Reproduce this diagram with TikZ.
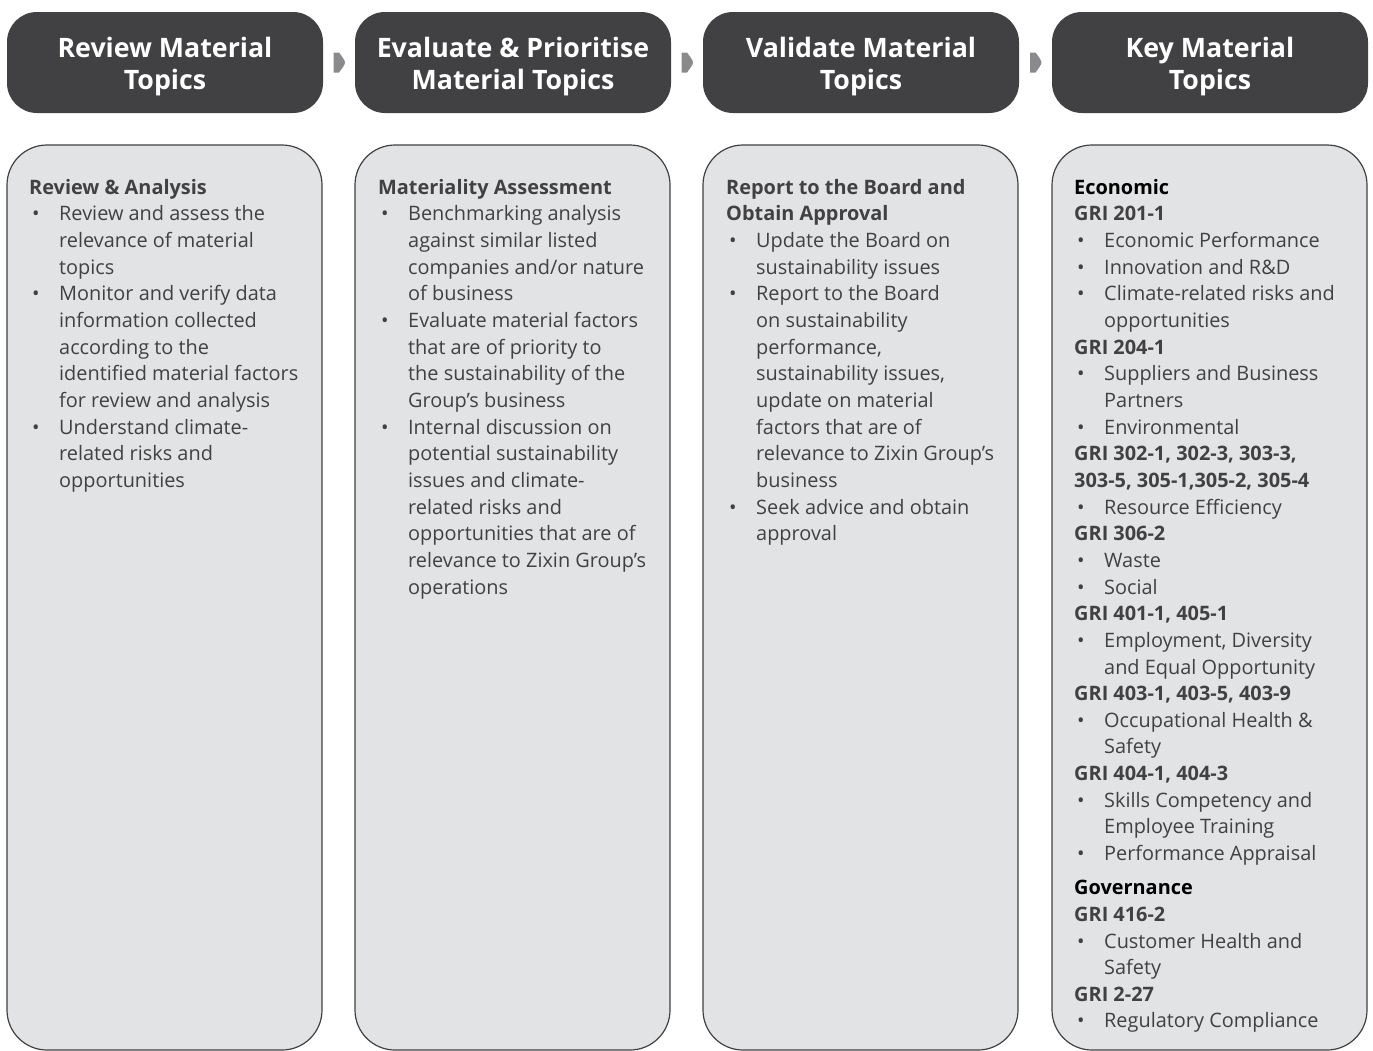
\documentclass[tikz,border=0pt]{standalone}
\usepackage{fontspec}
\setmainfont{Open Sans}
\usepackage{tikz}
\usetikzlibrary{positioning,calc}

\definecolor{hdgray}{HTML}{414042}
\definecolor{txtgray}{HTML}{414042}
\definecolor{boxfill}{HTML}{E2E3E5}
\definecolor{tipgray}{HTML}{8A8A8C}

% one bullet line, and the continuation of it
\newcommand{\bl}{\hspace*{3pt}\makebox[27pt][l]{\textbullet}}
\newcommand{\cn}{\hspace*{30pt}}
\newcommand{\gri}[1]{\textbf{#1}}
% two header lines, the first one a little taller
\newcommand{\hdtwo}[2]{\rule{0pt}{28.5pt}#1\\#2}

\tikzset{
  header/.style={fill=hdgray, rounded corners=30pt, minimum width=316pt, minimum height=101pt,
    text=white, align=center, inner sep=0pt,
    font=\bfseries\fontsize{26.75}{32}\selectfont},
  bodybox/.style={fill=boxfill, draw=hdgray, line width=1.2pt, rounded corners=40pt,
    minimum width=315pt, minimum height=905pt, inner sep=0pt},
  bodytext/.style={anchor=north west, align=left, inner sep=0pt, text=txtgray,
    font=\fontsize{19.9}{26.65}\selectfont},
  tip/.style={fill=tipgray}
}

\begin{document}
\begin{tikzpicture}[x=1pt,y=1pt]
\useasboundingbox (0,0) rectangle (1373,-1050);

% headers
\node[header] (hdA) at (165,-62.5) {\hdtwo{Review Material}{Topics}};
\node[header] (hdB) at (513,-62.5) {\hdtwo{Evaluate \& Prioritise}{Material Topics}};
\node[header] (hdC) at (861,-62.5) {\hdtwo{Validate Material}{Topics}};
\node[header] (hdD) at (1210,-62.5) {\hdtwo{Key Material}{Topics}};

% small tips between the headers
\foreach \a/\b in {hdA/hdB, hdB/hdC, hdC/hdD} {
  \path (\a.east) -- (\b.west) coordinate[midway] (m);
  \fill[tip] ($(m)+(-5.5,10)$) -- ($(m)+(0,10)$)
    .. controls ($(m)+(3,6)$) and ($(m)+(6,2)$) .. ($(m)+(6,0)$)
    .. controls ($(m)+(6,-2)$) and ($(m)+(3,-6)$) .. ($(m)+(0,-10)$)
    -- ($(m)+(-5.5,-10)$) -- cycle;
}

% body boxes
\node[bodybox] (bdA) at (164.5,-597.5) {};
\node[bodybox] (bdB) at (512.5,-597.5) {};
\node[bodybox] (bdC) at (860.5,-597.5) {};
\node[bodybox] (bdD) at (1209.5,-597.5) {};

\node[bodytext] (txA) at (29,-179) {%
\textbf{Review \& Analysis}\\
\bl Review and assess the\\
\cn relevance of material\\
\cn topics\\
\bl Monitor and verify data\\
\cn information collected\\
\cn according to the\\
\cn identified material factors\\
\cn for review and analysis\\
\bl Understand climate-\\
\cn related risks and\\
\cn opportunities};

\node[bodytext] (txB) at (378,-179) {%
\textbf{Materiality Assessment}\\
\bl Benchmarking analysis\\
\cn against similar listed\\
\cn companies and/or nature\\
\cn of business\\
\bl Evaluate material factors\\
\cn that are of priority to\\
\cn the sustainability of the\\
\cn Group’s business\\
\bl Internal discussion on\\
\cn potential sustainability\\
\cn issues and climate-\\
\cn related risks and\\
\cn opportunities that are of\\
\cn relevance to Zixin Group’s\\
\cn operations};

\node[bodytext] (txC) at (726,-179) {%
\textbf{Report to the Board and}\\
\textbf{Obtain Approval}\\
\bl Update the Board on\\
\cn sustainability issues\\
\bl Report to the Board\\
\cn on sustainability\\
\cn performance,\\
\cn sustainability issues,\\
\cn update on material\\
\cn factors that are of\\
\cn relevance to Zixin Group’s\\
\cn business\\
\bl Seek advice and obtain\\
\cn approval};

\node[bodytext] (txD) at (1074,-179) {%
\textcolor{black}{\textbf{Economic}}\\
\gri{GRI 201-1}\\
\bl Economic Performance\\
\bl Innovation and R\&D\\
\bl Climate-related risks and\\
\cn opportunities\\
\gri{GRI 204-1}\\
\bl Suppliers and Business\\
\cn Partners\\
\bl Environmental\\
\gri{GRI 302-1, 302-3, 303-3,}\\
\gri{303-5, 305-1,305-2, 305-4}\\
\bl Resource Efficiency\\
\gri{GRI 306-2}\\
\bl Waste\\
\bl Social\\
\gri{GRI 401-1, 405-1}\\
\bl Employment, Diversity\\
\cn and Equal Opportunity\\
\gri{GRI 403-1, 403-5, 403-9}\\
\bl Occupational Health \&\\
\cn Safety\\
\gri{GRI 404-1, 404-3}\\
\bl Skills Competency and\\
\cn Employee Training\\
\bl Performance Appraisal\\[7.5pt]
\textcolor{black}{\textbf{Governance}}\\
\gri{GRI 416-2}\\
\bl Customer Health and\\
\cn Safety\\
\gri{GRI 2-27}\\
\bl Regulatory Compliance};

\end{tikzpicture}
\end{document}
